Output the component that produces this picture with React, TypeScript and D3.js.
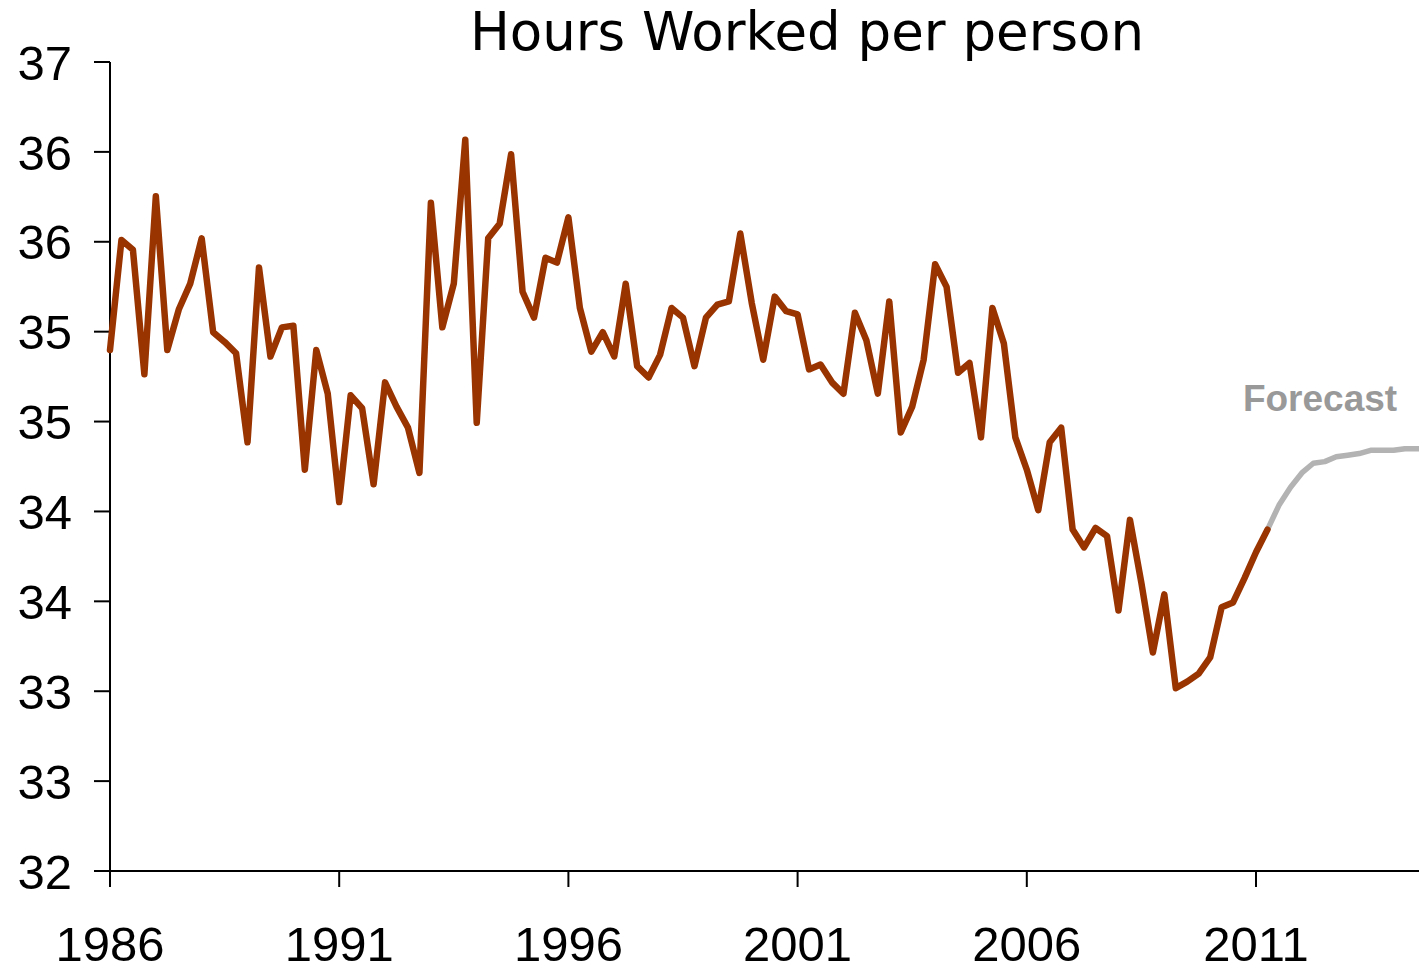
import React from "react";
import * as d3 from "d3";

// Quarterly data starting 1986 Q1
const startYear = 1986;
const actualHours: number[] = [
  35.22, 35.9, 35.84, 35.07, 36.17, 35.22, 35.47, 35.63, 35.91, 35.33,
  35.27, 35.2, 34.65, 35.73, 35.18, 35.36, 35.37, 34.48, 35.22, 34.95,
  34.28, 34.94, 34.86, 34.39, 35.02, 34.87, 34.74, 34.46, 36.13, 35.36,
  35.63, 36.52, 34.77, 35.91, 36.0, 36.43, 35.58, 35.42, 35.79, 35.76,
  36.04, 35.48, 35.21, 35.33, 35.18, 35.63, 35.12, 35.05, 35.19, 35.48,
  35.42, 35.12, 35.42, 35.5, 35.52, 35.94, 35.51, 35.16, 35.55, 35.46,
  35.44, 35.1, 35.13, 35.02, 34.95, 35.45, 35.28, 34.95, 35.52, 34.71,
  34.87, 35.16, 35.75, 35.61, 35.08, 35.14, 34.68, 35.48, 35.26, 34.68,
  34.48, 34.23, 34.65, 34.74, 34.11, 34.0, 34.12, 34.07, 33.61, 34.17,
  33.78, 33.35, 33.71, 33.13, 33.17, 33.22, 33.32, 33.63, 33.66, 33.81,
  33.97, 34.11,
];
// Forecast starts at the last actual quarter (index 101)
const forecastStartIndex = 101;
const forecastHours: number[] = [
  34.11, 34.26, 34.37, 34.46, 34.52, 34.53, 34.56, 34.57, 34.58, 34.6,
  34.6, 34.6, 34.61, 34.61, 34.61,
];

const xTickYears: number[] = [1986, 1991, 1996, 2001, 2006, 2011];
const yTickLabels: string[] = ["32", "33", "33", "34", "34", "35", "35", "36", "36", "37"];
const yMin = 32;
const yMax = 37;

const title = "Hours Worked per person";
const forecastLabel = "Forecast";

const W = 1419;
const H = 968;

export default function App() {
  const left = 110;
  const top = 62;
  const bottom = 871;
  const x = d3.scaleLinear().domain([1986, 2011]).range([left, 1256]);
  const y = d3.scaleLinear().domain([yMin, yMax]).range([bottom, top]);

  const actualPts = actualHours.map((v, i) => ({ t: startYear + i / 4, v }));
  const forecastPts = forecastHours.map((v, i) => ({
    t: startYear + (forecastStartIndex + i) / 4,
    v,
  }));

  const line = d3
    .line<{ t: number; v: number }>()
    .x((d) => x(d.t))
    .y((d) => y(d.v));

  const yTicks = yTickLabels.map((lab, i) => ({
    value: yMin + (i * (yMax - yMin)) / (yTickLabels.length - 1),
    lab,
  }));

  const font = "'Liberation Sans', Arial, sans-serif";

  return (
    <svg
      width={W}
      height={H}
      style={{ position: "absolute", left: 0, top: 0, display: "block", background: "#fff" }}
    >
      <text
        x={807}
        y={50}
        textAnchor="middle"
        fontFamily="Verdana, 'DejaVu Sans', sans-serif"
        fontSize={53}
        fill="#000"
      >
        {title}
      </text>

      {/* y axis */}
      <line x1={left} x2={left} y1={top} y2={bottom + 16} stroke="#000" strokeWidth={2} />
      {yTicks.map((t) => (
        <g key={t.value}>
          <line x1={left - 16} x2={left} y1={y(t.value)} y2={y(t.value)} stroke="#000" strokeWidth={2} />
          <text
            x={72}
            y={y(t.value)}
            dy="0.36em"
            textAnchor="end"
            fontFamily={font}
            fontSize={49}
            fill="#000"
          >
            {t.lab}
          </text>
        </g>
      ))}

      {/* x axis */}
      <line x1={left - 16} x2={W} y1={bottom} y2={bottom} stroke="#000" strokeWidth={2} />
      {xTickYears.map((yr) => (
        <g key={yr}>
          <line x1={x(yr)} x2={x(yr)} y1={bottom} y2={bottom + 16} stroke="#000" strokeWidth={2} />
          <text
            x={x(yr)}
            y={961}
            textAnchor="middle"
            fontFamily={font}
            fontSize={49}
            fill="#000"
          >
            {yr}
          </text>
        </g>
      ))}

      <path
        d={line(forecastPts) || ""}
        fill="none"
        stroke="#b3b3b3"
        strokeWidth={5.5}
        strokeLinejoin="round"
      />
      <path
        d={line(actualPts) || ""}
        fill="none"
        stroke="#993300"
        strokeWidth={6.5}
        strokeLinejoin="round"
        strokeLinecap="round"
      />

      <text
        x={1320}
        y={411}
        textAnchor="middle"
        fontFamily={font}
        fontWeight="bold"
        fontSize={37}
        fill="#999999"
      >
        {forecastLabel}
      </text>
    </svg>
  );
}
